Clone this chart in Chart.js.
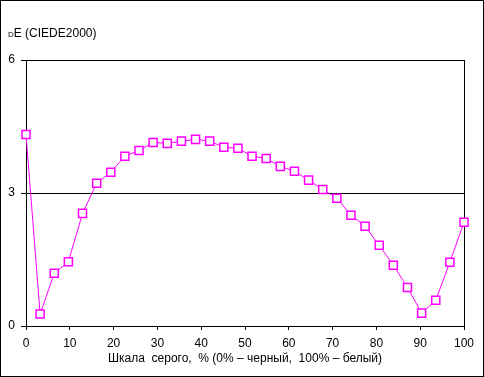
<!DOCTYPE html>
<html>
<head>
<meta charset="utf-8">
<script src="https://cdn.jsdelivr.net/npm/chart.js@4/dist/chart.umd.min.js"></script>
<style>
  html, body { margin: 0; padding: 0; background: #fff; }
  #wrap { width: 484px; height: 377px; position: relative; }
</style>
</head>
<body>
<div id="wrap"><canvas id="c"></canvas></div>
<script>
// dE per gray step (32 steps from black to white)
const STEPS = 32;
const DE = [4.32, 0.27, 1.19, 1.45, 2.54, 3.22, 3.47, 3.83, 3.96, 4.14, 4.12, 4.17, 4.21, 4.17, 4.03, 4.01,
  3.83, 3.78, 3.60, 3.49, 3.29, 3.08, 2.88, 2.50, 2.25, 1.82, 1.37, 0.87, 0.29, 0.58, 1.44, 2.34];
const X_TICKS = [0, 10, 20, 30, 40, 50, 60, 70, 80, 90, 100];
const Y_TICKS = [0, 3, 6];
const TITLE = "dE (CIEDE2000)";
const X_TITLE = "Шкала  серого,  % (0% – черный,  100% – белый)";

const FONT = "Arial, 'Liberation Sans', sans-serif";
const pts = DE.map((v, i) => ({ x: i * 100 / (STEPS - 1), y: v }));

// title top-left, frame around the plot and around the whole picture
const frame = {
  id: "frame",
  beforeDatasetsDraw(ch) {
    const { ctx, chartArea: a } = ch;
    ctx.save();
    ctx.strokeStyle = "#000";
    ctx.lineWidth = 1;
    ctx.strokeRect(Math.round(a.left) + 0.5, Math.round(a.top) + 0.5, Math.round(a.right - a.left), Math.round(a.bottom - a.top));
    ctx.restore();
  },
  afterDraw(ch) {
    const { ctx } = ch;
    ctx.save();
    ctx.strokeStyle = "#000";
    ctx.lineWidth = 1;
    ctx.strokeRect(0.5, 0.5, ch.width - 1, ch.height - 1);
    ctx.fillStyle = "#000";
    ctx.font = "small-caps 12px " + FONT;
    ctx.textBaseline = "alphabetic";
    ctx.fillText(TITLE, 8, 37);
    ctx.restore();
  },
};

new Chart(document.getElementById("c"), {
  type: "line",
  data: {
    datasets: [{
      data: pts, borderColor: "#ff00ff", borderWidth: 1, backgroundColor: "#fff", clip: false,
      pointStyle: "rect", pointRadius: 5.7, pointBorderColor: "#ff00ff", pointBackgroundColor: "#fff",
      pointBorderWidth: 1.5, tension: 0,
    }],
  },
  options: {
    responsive: true, maintainAspectRatio: false, animation: false, parsing: false,
    layout: { padding: { left: 6, right: 20, top: 60, bottom: 0 } },
    plugins: { legend: { display: false }, tooltip: { enabled: false }, title: { display: false } },
    scales: {
      x: {
        type: "linear", min: 0, max: 100,
        afterBuildTicks: (s) => { s.ticks = X_TICKS.map((v) => ({ value: v })); },
        afterFit: (s) => { s.height = 51; },
        ticks: { color: "#000", font: { family: FONT, size: 12 }, padding: 6, maxRotation: 0 },
        grid: { display: true, drawOnChartArea: false, drawTicks: true, tickLength: 4, color: "#000" },
        border: { display: true, color: "#000" },
        title: { display: true, text: X_TITLE, color: "#000", font: { family: FONT, size: 12 }, padding: { top: 0, bottom: 11 } },
      },
      y: {
        min: 0, max: 6,
        afterBuildTicks: (s) => { s.ticks = Y_TICKS.map((v) => ({ value: v })); },
        afterFit: (s) => { s.width = 20; },
        ticks: { color: "#000", font: { family: FONT, size: 12 }, padding: 6 },
        grid: { color: "#000", drawTicks: true, tickLength: 5 },
        border: { display: true, color: "#000" },
      },
    },
  },
  plugins: [frame],
});
</script>
</body>
</html>
